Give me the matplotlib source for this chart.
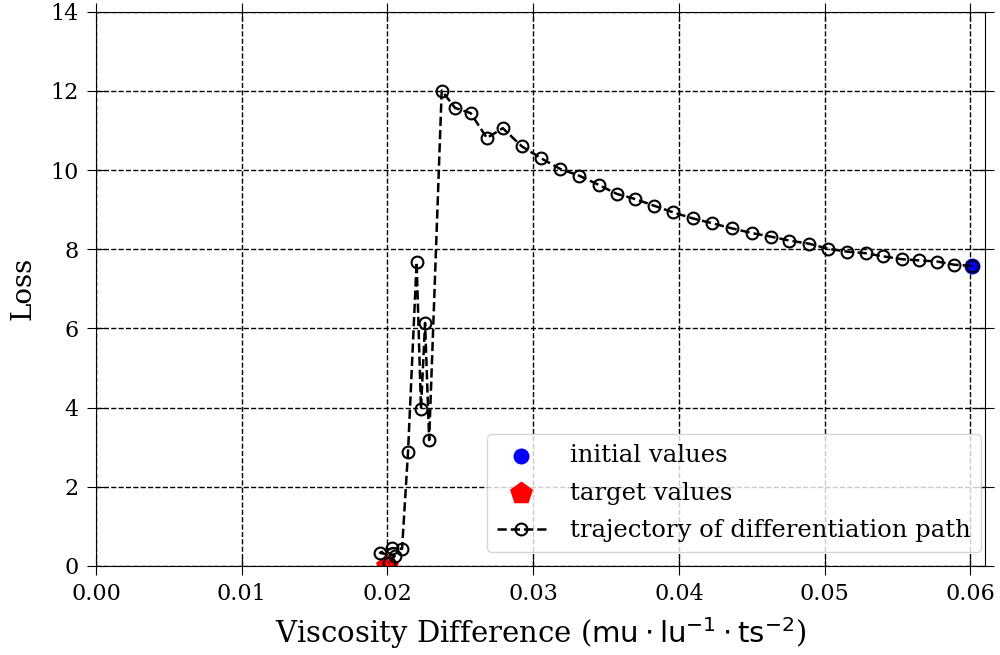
import matplotlib
matplotlib.use("Agg")
import matplotlib.pyplot as plt

plt.rcParams['font.family'] = ['DejaVu Serif']
plt.rcParams['mathtext.fontset'] = 'dejavusans'

# trajectory (from initial values to final)
traj_x = [0.06010, 0.05888, 0.05773, 0.05650, 0.05529, 0.05403, 0.05282, 0.05156,
          0.05026, 0.04894, 0.04758, 0.04630, 0.04500, 0.04362, 0.04225, 0.04095,
          0.03962, 0.03830, 0.03699, 0.03573, 0.03448, 0.03315, 0.03185, 0.03054,
          0.02922, 0.02791, 0.02682, 0.02571, 0.02464, 0.02372,
          0.02286, 0.02258, 0.02230, 0.02200, 0.02141,
          0.02100, 0.02032, 0.01949, 0.02050, 0.02010]
traj_y = [7.58, 7.61, 7.69, 7.72, 7.75, 7.82, 7.90, 7.94,
          8.01, 8.14, 8.22, 8.32, 8.41, 8.53, 8.66, 8.78,
          8.93, 9.10, 9.27, 9.40, 9.63, 9.86, 10.03, 10.30,
          10.60, 11.06, 10.81, 11.44, 11.57, 12.01,
          3.18, 6.14, 3.97, 7.68, 2.88,
          0.43, 0.45, 0.33, 0.25, 0.08]

init_x, init_y = [0.0601], [7.58]
target_x, target_y = [0.0200], [0.0]

x_ticks = [0.00, 0.01, 0.02, 0.03, 0.04, 0.05, 0.06]
y_ticks = [0, 2, 4, 6, 8, 10, 12, 14]

fig = plt.figure(figsize=(10, 6.55), dpi=100)
ax = fig.add_axes([0.096, 0.136, 0.889, 0.846])

ax.scatter(init_x, init_y, color='blue', s=110, zorder=2.5, label='initial values')
ax.scatter(target_x, target_y, color='red', marker='p', s=260, zorder=2, label='target values')
ax.plot(traj_x, traj_y, linestyle='--', color='black', lw=1.8, marker='o',
        markersize=8.5, markerfacecolor='none', markeredgecolor='black', markeredgewidth=1.5,
        zorder=3, label='trajectory of differentiation path')

ax.set_xlim(0, 0.061)
ax.set_ylim(0, 14)
ax.set_xticks(x_ticks)
ax.set_yticks(y_ticks)
ax.set_xticklabels([f'{v:.2f}' for v in x_ticks])
ax.grid(True, color='black', linestyle='--', linewidth=1)
ax.set_axisbelow(True)
ax.tick_params(direction='inout', top=True, right=True, labelsize=16, length=13, pad=6)

ax.set_xlabel(r'Viscosity Difference ($\mathrm{mu \cdot lu^{-1} \cdot ts^{-2}}$)', fontsize=21, labelpad=7)
ax.set_ylabel('Loss', fontsize=20, labelpad=10)

ax.legend(loc='lower right', bbox_to_anchor=(0.995, 0.025), borderaxespad=0,
          fontsize=17.5, handletextpad=1.0, labelspacing=0.6)

fig.savefig('out.png', dpi=100)
